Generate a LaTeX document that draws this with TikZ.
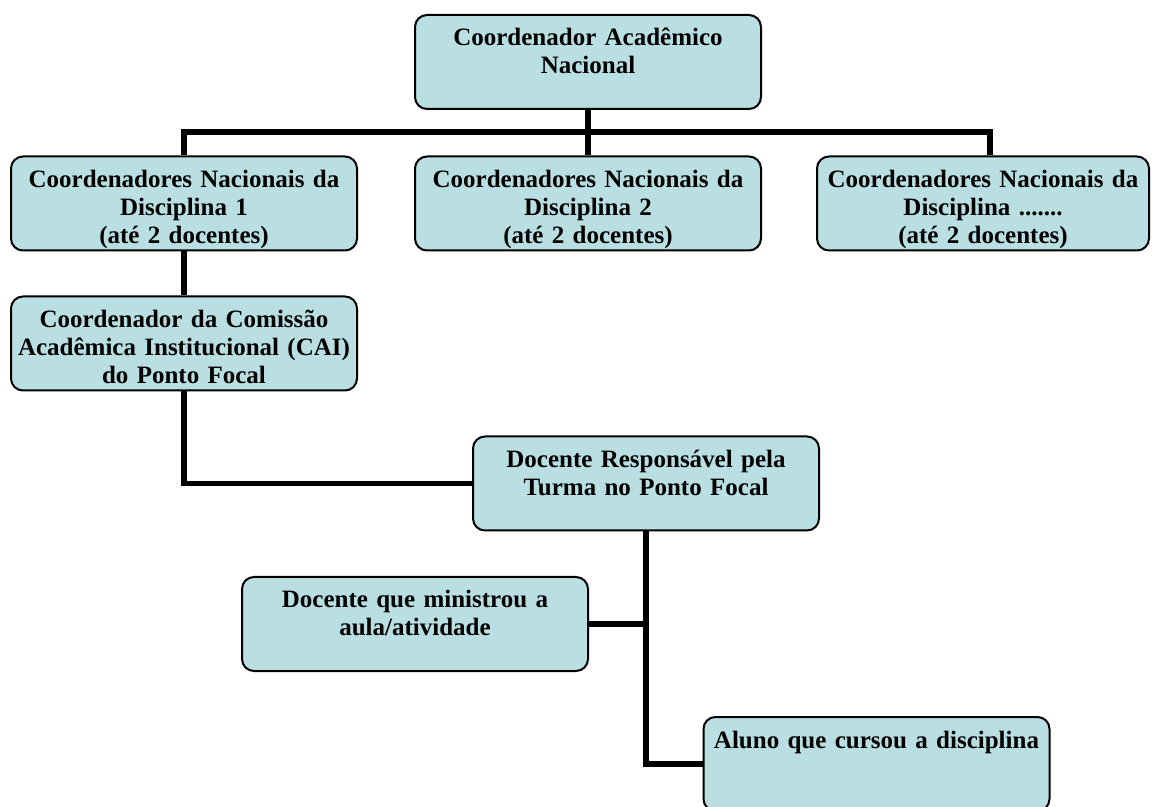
\documentclass[tikz,border=0pt]{standalone}
\usepackage{fontspec}
\setmainfont{Liberation Serif}
\usepackage{tikz}
\definecolor{caixa}{RGB}{185,223,227}

\begin{document}
\begin{tikzpicture}[x=0.5pt,y=-0.5pt,
		unidade/.style={draw,fill=caixa,line width=1pt,rounded corners=6pt,
			text width=172pt,align=center,inner xsep=0.5pt,inner ysep=6pt,
			text height=9.5pt,text depth=25.5pt,
			font=\fontsize{12.5}{14}\selectfont\bfseries},
		ligacao/.style={line width=2.8pt}]
		\useasboundingbox (0,0) rectangle (1152,807);
		\node[unidade](cnac) at (588,62){Coordenador Acadêmico\\Nacional};
		\node[unidade](disc1) at (184,203.5){Coordenadores Nacionais da\\Disciplina 1\\(até 2 docentes)};
		\node[unidade](disc2) at (588,203.5){Coordenadores Nacionais da\\Disciplina 2\\(até 2 docentes)};
		\node[unidade,text width=165pt](disc3) at (983,203.5){Coordenadores Nacionais da\\Disciplina .......\\(até 2 docentes)};
		\node[unidade](cai) at (184,343.5){Coordenador da Comissão\\Acadêmica Institucional (CAI)\\do Ponto Focal};
		\node[unidade](resp) at (646,483.5){Docente Responsável pela\\Turma no Ponto Focal};
		\node[unidade](minist) at (415,624){Docente que ministrou a\\aula/atividade};
		\node[unidade](aluno) at (876.5,764){Aluno que cursou a disciplina};
		\coordinate (fork) at (588,132);
		\coordinate (fork3) at (990,132);
		\draw[ligacao] (cnac) -- (disc2);
		\draw[ligacao] (disc1.north) |- (fork3) -- (fork3 |- disc3.north);
		\draw[ligacao] (disc1) -- (cai);
		\draw[ligacao] (cai.south) |- (resp.west);
		\draw[ligacao] (resp.south) |- (aluno.west);
		\draw[ligacao] (minist.east) -- (minist.east -| resp.south);
	\end{tikzpicture}
\end{document}
